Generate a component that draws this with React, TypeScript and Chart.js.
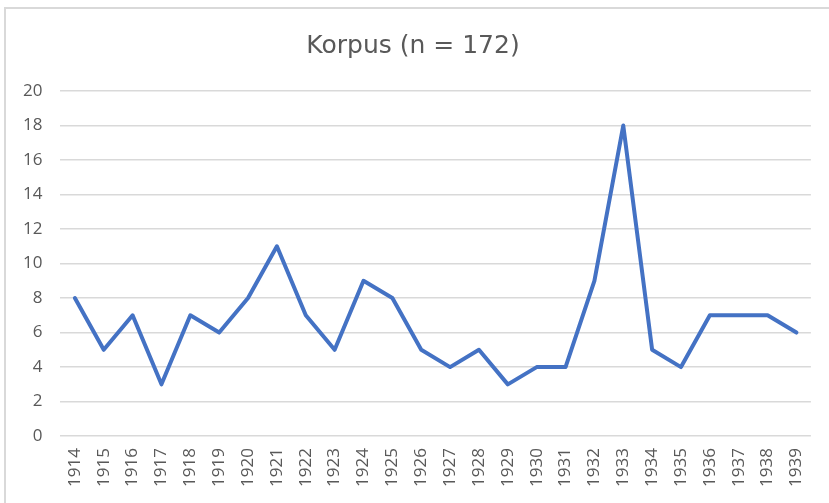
import React, { useEffect, useRef } from "react";
import { Chart, registerables } from "chart.js";

Chart.register(...registerables);

const years: string[] = [
  "1914", "1915", "1916", "1917", "1918", "1919", "1920", "1921", "1922", "1923",
  "1924", "1925", "1926", "1927", "1928", "1929", "1930", "1931", "1932", "1933",
  "1934", "1935", "1936", "1937", "1938", "1939",
];
const counts: number[] = [
  8, 5, 7, 3, 7, 6, 8, 11, 7, 5,
  9, 8, 5, 4, 5, 3, 4, 4, 9, 18,
  5, 4, 7, 7, 7, 6,
];
const titleText = "Korpus (n = 172)";

export default function App() {
  const ref = useRef<HTMLCanvasElement | null>(null);

  useEffect(() => {
    if (!ref.current) return;
    const chart = new Chart(ref.current, {
      type: "line",
      data: {
        labels: years,
        datasets: [
          {
            data: counts,
            borderColor: "#4472C4",
            backgroundColor: "#4472C4",
            borderWidth: 4,
            pointRadius: 0,
            pointHoverRadius: 0,
            tension: 0,
            borderJoinStyle: "round",
            borderCapStyle: "round",
          },
        ],
      },
      options: {
        responsive: false,
        animation: false,
        layout: { padding: { left: 5, right: 8, top: 0, bottom: 4 } },
        plugins: {
          legend: { display: false },
          tooltip: { enabled: false },
          title: {
            display: true,
            text: titleText,
            color: "#595959",
            font: { family: "'DejaVu Sans'", size: 25, weight: "normal" },
            padding: { top: 31, bottom: 30 },
          },
        },
        scales: {
          x: {
            offset: true,
            grid: { display: false, drawTicks: false },
            border: { display: false },
            ticks: {
              color: "#595959",
              font: { family: "'Open Sans'", size: 17 },
              minRotation: 90,
              maxRotation: 90,
              padding: 12,
              autoSkip: false,
            },
          },
          y: {
            min: 0,
            max: 20,
            grid: { color: "#d9d9d9", lineWidth: 1.5, drawTicks: false },
            border: { display: false },
            ticks: {
              stepSize: 2,
              color: "#595959",
              font: { family: "'Open Sans'", size: 17 },
              padding: 18,
            },
          },
        },
      },
    });
    return () => chart.destroy();
  }, []);

  return (
    <div style={{ position: "fixed", left: 0, top: 0, width: 829, height: 503, background: "#fff", overflow: "hidden" }}>
      <div
        style={{
          position: "absolute",
          left: 4,
          top: 7,
          width: 900,
          height: 600,
          borderTop: "2px solid #d9d9d9",
          borderLeft: "2px solid #d9d9d9",
        }}
      />
      <canvas ref={ref} width={829} height={503} style={{ position: "absolute", left: 0, top: 0, width: 829, height: 503 }} />
    </div>
  );
}
